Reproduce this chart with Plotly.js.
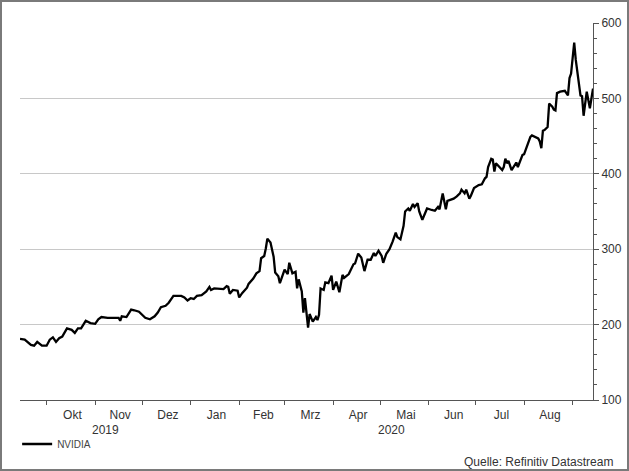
<!DOCTYPE html>
<html>
<head>
<meta charset="utf-8">
<script src="https://cdn.plot.ly/plotly-3.0.1.min.js"></script>
<style>
html,body{margin:0;padding:0;background:#fff;}
#chart{width:629px;height:471px;}
#frame{position:absolute;left:0;top:0;width:629px;height:471px;box-sizing:border-box;border:2px solid #7a7a7a;pointer-events:none;}
</style>
</head>
<body>
<div id="chart"></div>
<div id="frame"></div>
<script>
const seriesName = 'NVIDIA';
const dates = [
'2019-09-14','2019-09-17','2019-09-21','2019-09-23','2019-09-25','2019-09-28','2019-10-01','2019-10-03','2019-10-05','2019-10-07',
'2019-10-09','2019-10-11','2019-10-14','2019-10-17','2019-10-19','2019-10-21','2019-10-23','2019-10-26','2019-10-29','2019-11-01',
'2019-11-03','2019-11-05','2019-11-09','2019-11-16','2019-11-17','2019-11-18','2019-11-21','2019-11-24','2019-11-26','2019-11-29',
'2019-12-03','2019-12-06','2019-12-09','2019-12-11','2019-12-13','2019-12-16','2019-12-18','2019-12-21','2019-12-26','2019-12-28',
'2019-12-30','2020-01-01','2020-01-03','2020-01-05','2020-01-08','2020-01-11','2020-01-13','2020-01-14','2020-01-16','2020-01-21',
'2020-01-22','2020-01-24','2020-01-25','2020-01-26','2020-01-28','2020-01-31','2020-02-01','2020-02-03','2020-02-06','2020-02-07',
'2020-02-10','2020-02-12','2020-02-14','2020-02-15','2020-02-17','2020-02-18','2020-02-19','2020-02-21','2020-02-23','2020-02-24',
'2020-02-26','2020-02-27','2020-02-29','2020-03-01','2020-03-03','2020-03-04','2020-03-06','2020-03-08','2020-03-09','2020-03-10',
'2020-03-12','2020-03-13','2020-03-14','2020-03-16','2020-03-17','2020-03-19','2020-03-21','2020-03-22','2020-03-23','2020-03-24',
'2020-03-26','2020-03-27','2020-03-29','2020-03-31','2020-04-01','2020-04-03','2020-04-05','2020-04-07','2020-04-08','2020-04-11',
'2020-04-14','2020-04-15','2020-04-17','2020-04-19','2020-04-21','2020-04-23','2020-04-25','2020-04-27','2020-04-28','2020-04-30',
'2020-05-02','2020-05-03','2020-05-05','2020-05-07','2020-05-09','2020-05-11','2020-05-12','2020-05-14','2020-05-16','2020-05-17',
'2020-05-19','2020-05-20','2020-05-22','2020-05-23','2020-05-25','2020-05-26','2020-05-28','2020-05-31','2020-06-03','2020-06-05',
'2020-06-07','2020-06-08','2020-06-10','2020-06-12','2020-06-13','2020-06-16','2020-06-17','2020-06-19','2020-06-21','2020-06-22',
'2020-06-24','2020-06-25','2020-06-27','2020-06-28','2020-06-30','2020-07-03','2020-07-05','2020-07-07','2020-07-08','2020-07-09',
'2020-07-11','2020-07-12','2020-07-13','2020-07-14','2020-07-16','2020-07-18','2020-07-19','2020-07-20','2020-07-21','2020-07-22',
'2020-07-24','2020-07-25','2020-07-27','2020-07-28','2020-07-30','2020-07-31','2020-08-01','2020-08-03','2020-08-05','2020-08-06',
'2020-08-08','2020-08-10','2020-08-11','2020-08-12','2020-08-13','2020-08-14','2020-08-16','2020-08-17','2020-08-19','2020-08-20',
'2020-08-21','2020-08-22','2020-08-24','2020-08-27','2020-08-29','2020-08-30','2020-08-31','2020-09-01','2020-09-02','2020-09-03',
'2020-09-05','2020-09-06','2020-09-07','2020-09-08','2020-09-10','2020-09-11','2020-09-12','2020-09-14'
];
const prices = [
181,180,173,172,177,172,172,180,183,177,
182,184,195,193,189,195,195,205,202,201,
207,210,209,209,205,211,210,220,219,217,
209,207,211,216,223,225,229,238,238,236,
232,235,234,238,239,244,250,246,248,248,
247,251,250,241,246,245,236,242,249,254,
261,268,271,288,291,301,314,309,290,269,
264,255,268,273,267,282,268,270,248,260,
244,216,235,196,214,204,210,206,213,248,
246,256,255,265,246,257,243,266,262,267,
280,281,294,289,271,286,286,295,291,298,
291,282,294,300,310,322,316,313,331,350,
354,351,360,356,361,350,339,354,352,351,
356,353,374,353,364,366,367,370,374,379,
374,379,367,371,381,385,386,394,396,409,
420,419,403,414,409,405,409,420,414,417,
405,409,415,409,420,425,426,438,449,451,
449,447,443,434,457,458,462,493,489,485,
484,507,509,510,504,527,533,551,574,551,
518,504,503,477,509,496,487,513
];
const xRange = ['2019-09-14','2020-09-14'];
const monthStarts = ['2019-10-01','2019-11-01','2019-12-01','2020-01-01','2020-02-01','2020-03-01',
  '2020-04-01','2020-05-01','2020-06-01','2020-07-01','2020-08-01','2020-09-01'];
const monthLabels = ['Okt','Nov','Dez','Jan','Feb','Mrz','Apr','Mai','Jun','Jul','Aug'];
const yearLabels = ['2019','2020'];
const yearBounds = ['2019-09-14','2020-01-01','2020-09-14'];
const yTicks = [100,200,300,400,500,600];
const sourceText = 'Quelle: Refinitiv Datastream';

const ms = s => Date.parse(s);
const monthMids = monthLabels.map((_, i) => (ms(monthStarts[i]) + ms(monthStarts[i+1])) / 2 + 86400000);
const yearMids = yearLabels.map((_, i) => (ms(yearBounds[i]) + ms(yearBounds[i+1])) / 2);

const FONT = '"Liberation Sans", Arial, Helvetica, sans-serif';

const traces = [
  {x: dates, y: prices, type: 'scatter', mode: 'lines', name: seriesName,
   line: {color: '#000000', width: 2.3}, xaxis: 'x', yaxis: 'y', hoverinfo: 'x+y'},
  {x: [], y: [], type: 'scatter', mode: 'lines', xaxis: 'x2', yaxis: 'y',
   showlegend: false, hoverinfo: 'skip'}
];

const annotations = yearLabels.map((t, i) => ({
  text: t, xref: 'x', x: yearMids[i], yref: 'paper', y: -0.0796,
  xanchor: 'center', yanchor: 'middle', showarrow: false,
  font: {family: FONT, size: 12, color: '#333333'}
}));
annotations.push({
  text: sourceText, xref: 'paper', x: 1.0384, yref: 'paper', y: -0.164,
  xanchor: 'right', yanchor: 'middle', showarrow: false,
  font: {family: FONT, size: 12, color: '#333333'}
});

const layout = {
  width: 629, height: 471,
  margin: {l: 20, r: 36, t: 23, b: 71, pad: 0},
  paper_bgcolor: '#ffffff', plot_bgcolor: '#ffffff',
  font: {family: FONT, size: 12, color: '#333333'},
  showlegend: true,
  legend: {x: -0.005, y: -0.1167, xanchor: 'left', yanchor: 'middle', orientation: 'h',
    font: {family: FONT, size: 10, color: '#444444'}, bgcolor: 'rgba(0,0,0,0)', borderwidth: 0, itemwidth: 30},
  xaxis: {type: 'date', range: xRange, tickmode: 'array', tickvals: monthStarts, showticklabels: false,
    ticks: 'outside', ticklen: 4, tickwidth: 1, tickcolor: '#555555',
    showline: true, linecolor: '#555555', linewidth: 1, showgrid: false, zeroline: false, fixedrange: true},
  xaxis2: {type: 'date', overlaying: 'x', side: 'bottom', range: xRange, tickmode: 'array',
    tickvals: monthMids, ticktext: monthLabels, ticks: 'outside', ticklen: 4, tickcolor: 'rgba(0,0,0,0)',
    showline: false, showgrid: false, zeroline: false, fixedrange: true,
    tickfont: {family: FONT, size: 12, color: '#333333'}},
  yaxis: {side: 'right', range: [100, 600], tickmode: 'array', tickvals: yTicks,
    ticks: 'outside', ticklen: 5, tickwidth: 1, tickcolor: '#555555',
    showline: true, linecolor: '#555555', linewidth: 1,
    showgrid: true, gridcolor: '#c8c8c8', gridwidth: 1, zeroline: false, fixedrange: true,
    tickfont: {family: FONT, size: 12, color: '#333333'},
    minor: {tickmode: 'linear', tick0: 100, dtick: 20, ticks: 'outside', ticklen: 3, tickcolor: '#555555', showgrid: false}},
  annotations: annotations
};

Plotly.newPlot('chart', traces, layout, {displayModeBar: false, staticPlot: false});
</script>
</body>
</html>
